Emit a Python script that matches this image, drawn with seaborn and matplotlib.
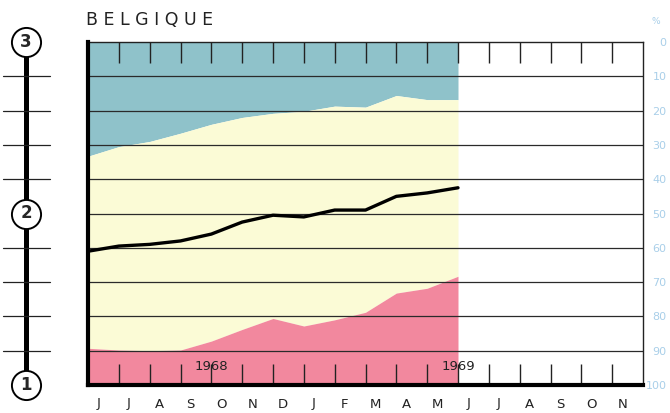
import matplotlib
matplotlib.use("Agg")
import matplotlib.pyplot as plt
import numpy as np
import pandas as pd
import seaborn as sns

# month labels along the bottom (June 1968 .. November 1969)
months = ["J", "J", "A", "S", "O", "N", "D", "J", "F", "M", "A", "M",
          "J", "J", "A", "S", "O", "N"]
# months with data (June 1968 .. June 1969)
month_idx = list(range(13))
# boundary between blue (top) and yellow band, in %
blue_edge = [33.3, 30.5, 29.0, 26.6, 24.0, 22.0, 20.8, 20.2, 18.7, 19.0, 15.6, 16.8, 16.8]
# boundary between yellow band and red (bottom), in %
red_edge = [89.3, 89.8, 90.0, 89.8, 87.2, 83.8, 80.6, 82.8, 81.0, 78.8, 73.2, 71.8, 68.3]
# index line, read on the 1-3 scale at left
index_vals = [1.78, 1.81, 1.82, 1.84, 1.88, 1.95, 1.99, 1.98, 2.02, 2.02, 2.10, 2.12, 2.15]
pct_ticks = list(range(0, 101, 10))
scale_marks = [1, 2, 3]

BLUE = "#8fc2ca"
YELLOW = "#fbfbd6"
RED = "#f2889e"
PCT_COLOR = "#a9cfe9"

sns.set_theme(style="white")
plt.rcParams["font.family"] = ["DejaVu Sans"]

W, H = 670, 413
fig = plt.figure(figsize=(W / 100, H / 100), dpi=100)
x0, x1, y_top, y_bot = 88, 643, 42, 385
ax = fig.add_axes([x0 / W, 1 - y_bot / H, (x1 - x0) / W, (y_bot - y_top) / H])
# twin for the index line (made first: twinx moves the y ticks of ax to the left)
ax2 = ax.twinx()
ax.set_axisbelow(False)

# stacked coloured bands
ax.fill_between(month_idx, 0, blue_edge, color=BLUE, lw=0, zorder=0.3)
ax.fill_between(month_idx, blue_edge, red_edge, color=YELLOW, lw=0, zorder=0.3)
ax.fill_between(month_idx, red_edge, 100, color=RED, lw=0, zorder=0.3)

ax.set_xlim(0, len(months))
ax.set_ylim(100, 0)

# horizontal grid every 10 %
for p in pct_ticks[1:-1]:
    ax.axhline(p, color="#2a2a2a", lw=0.9, zorder=2)

# percent labels on the right (right-aligned near the figure edge)
ax.yaxis.tick_right()
ax.set_yticks(pct_ticks)
ax.set_yticklabels([str(p) for p in pct_ticks])
ax.tick_params(axis="y", length=0, pad=17, labelsize=8, labelcolor=PCT_COLOR)
for lab in ax.get_yticklabels():
    lab.set_horizontalalignment("right")

# month labels and inward ticks
ax.set_xticks([i + 0.33 for i in range(len(months))])
ax.set_xticklabels(months)
ax.tick_params(axis="x", length=0, pad=9, labelsize=9.5, labelcolor="#222222")
ax.set_xticks(range(1, len(months)), minor=True)
ax.tick_params(axis="x", which="minor", direction="in", length=15, width=1,
               color="#222222", top=True, bottom=True)

for side in ["top", "right"]:
    ax.spines[side].set_linewidth(1)
    ax.spines[side].set_color("#222222")
for side in ["left", "bottom"]:
    ax.spines[side].set_linewidth(3)
    ax.spines[side].set_color("black")
    ax.spines[side].set_zorder(5)

ax.text(4, 94.5, "1968", ha="center", va="center", fontsize=9.5,
        color="#222222", zorder=4)
ax.text(12, 94.5, "1969", ha="center", va="center", fontsize=9.5,
        color="#222222", zorder=4)

# index line on the 1-3 scale
ax2.set_ylim(1, 3)
df = pd.DataFrame({"m": month_idx, "idx": index_vals})
sns.lineplot(data=df, x="m", y="idx", ax=ax2, color="black", lw=2.4, zorder=6)
ax2.set_yticks([])
ax2.set_xlabel("")
ax2.set_ylabel("")
for s in ax2.spines.values():
    s.set_visible(False)
ax.set_xlabel("")
ax.set_ylabel("")

# left 1-2-3 scale
axl = fig.add_axes([0, 1 - y_bot / H, 55 / W, (y_bot - y_top) / H])
axl.set_xlim(0, 55)
axl.set_ylim(1, 3)
axl.axis("off")
axl.plot([26, 26], [1, 3], color="black", lw=3.6, zorder=1, clip_on=False)
for v in np.arange(1.2, 3.0, 0.2):
    if abs(v - 2) > 0.01:
        axl.plot([3, 50], [v, v], color="#222222", lw=0.9, zorder=1)
sns.scatterplot(x=[26] * 3, y=scale_marks, ax=axl, s=440, color="white",
                edgecolor="black", linewidth=1.4, zorder=3, clip_on=False)
for v in scale_marks:
    axl.text(26, v, str(v), ha="center", va="center", fontsize=12,
             fontweight="bold", zorder=4)

fig.text(86 / W, 1 - 20 / H, "B E L G I Q U E", ha="left", va="center",
         fontsize=12.5, color="#222222")
fig.text(656 / W, 1 - 22 / H, "%", ha="center", va="center", fontsize=6.5, color=PCT_COLOR)

fig.savefig("out.png", dpi=100)
